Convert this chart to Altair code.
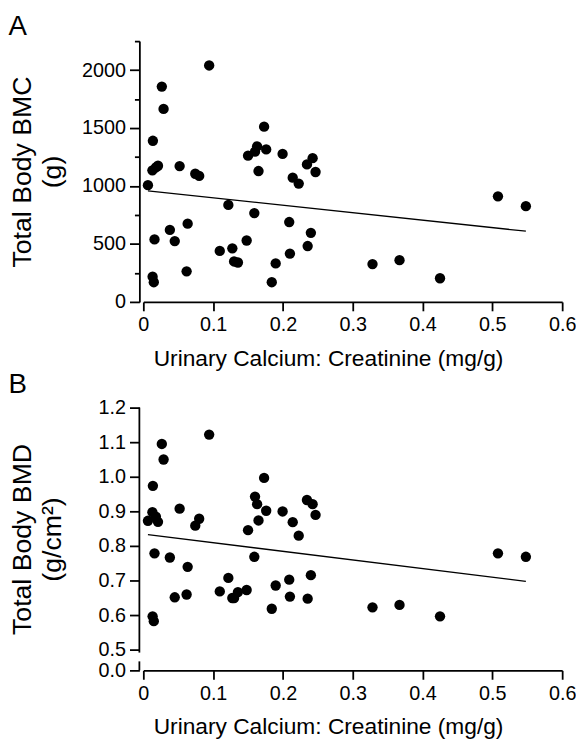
import altair as alt
import pandas as pd

# Urinary calcium : creatinine ratio (mg/g), one value per subject
ratio = [0.0066, 0.0137, 0.013, 0.018, 0.021, 0.0265, 0.029, 0.016, 0.0133, 0.015,
         0.038, 0.045, 0.052, 0.0635, 0.062, 0.0744, 0.080, 0.0943, 0.1218, 0.1095,
         0.1275, 0.130, 0.1355, 0.148, 0.150, 0.159, 0.160, 0.163, 0.165, 0.173,
         0.176, 0.184, 0.1896, 0.1995, 0.209, 0.210, 0.214, 0.2226, 0.2344, 0.2425,
         0.2467, 0.240, 0.2354, 0.3283, 0.367, 0.425, 0.508, 0.548]
# Total body BMC (g)
bmc = [1007, 1390, 1135, 1160, 1175, 1858, 1665, 539, 218, 170,
       621, 525, 1172, 675, 264, 1106, 1087, 2040, 837, 440,
       462, 349, 340, 530, 1262, 766, 1296, 1342, 1129, 1512,
       1316, 170, 332, 1277, 689, 417, 1072, 1021, 1186, 1240,
       1121, 596, 482, 326, 360, 204, 911, 826]
# Total body BMD (g/cm2)
bmd = [0.873, 0.974, 0.898, 0.885, 0.870, 1.095, 1.050, 0.779, 0.597, 0.583,
       0.767, 0.652, 0.908, 0.740, 0.660, 0.859, 0.879, 1.122, 0.708, 0.669,
       0.650, 0.650, 0.667, 0.673, 0.846, 0.769, 0.943, 0.921, 0.874, 0.997,
       0.902, 0.619, 0.686, 0.900, 0.703, 0.654, 0.869, 0.830, 0.933, 0.921,
       0.890, 0.716, 0.648, 0.623, 0.630, 0.597, 0.779, 0.769]
# fitted regression lines (end points)
fit_x = [0.0066, 0.548]
fit_bmc = [958, 610]
fit_bmd = [0.833, 0.698]

x_ticks = [0, 0.1, 0.2, 0.3, 0.4, 0.5, 0.6]
bmc_ticks = [0, 250, 500, 750, 1000, 1250, 1500, 1750, 2000, 2250]
bmd_ticks = [0.0, 0.5, 0.6, 0.7, 0.8, 0.9, 1.0, 1.1, 1.2]

pts = pd.DataFrame({"ratio": ratio, "bmc": bmc, "bmd": bmd})
fit = pd.DataFrame({"ratio": fit_x, "bmc": fit_bmc, "bmd": fit_bmd})

FONT = "Liberation Sans"
W = 424
HA = 264
HB = 266
YTITLE_X = -110.5

xscale = alt.Scale(domain=[0, 0.6], nice=False, zero=False)


def xaxis():
    return alt.Axis(values=x_ticks, tickCount=30, format="~g",
                    title="Urinary Calcium: Creatinine (mg/g)",
                    titleFontSize=23, titleFontWeight="normal", labelFontSize=20,
                    tickSize=9, labelPadding=4, titleX=187, titleY=64,
                    titleBaseline="alphabetic", titleAlign="center", grid=False,
                    domainColor="black", tickColor="black", labelColor="black",
                    titleColor="black", domainWidth=1.8, tickWidth=1.8,
                    labelFlush=False, labelOverlap=False)


# ---------- Panel A ----------
yA = alt.Scale(domain=[0, 2250], nice=False, zero=False)
yaxisA = alt.Axis(values=bmc_ticks, tickCount=30, format="d",
                  labelExpr="datum.value % 500 == 0 ? datum.label : ''",
                  tickSize={"condition": {"test": "datum.value % 500 != 0", "value": 5}, "value": 10},
                  offset=4, labelPadding=4, labelFontSize=20, labelOverlap=False,
                  title=["Total Body BMC", "(g)"], titleFontSize=27, titleFontWeight="normal",
                  titleLineHeight=31, titleX=YTITLE_X, titleBaseline="alphabetic",
                  grid=False, domainColor="black", tickColor="black", labelColor="black",
                  titleColor="black", domainWidth=1.8, tickWidth=1.8)

ptsA = alt.Chart(pts).mark_circle(size=110, color="black", opacity=1).encode(
    x=alt.X("ratio:Q", scale=xscale, axis=xaxis()),
    y=alt.Y("bmc:Q", scale=yA, axis=yaxisA),
)
lineA = alt.Chart(fit).mark_line(color="black", strokeWidth=1.3).encode(
    x=alt.X("ratio:Q", scale=xscale), y=alt.Y("bmc:Q", scale=yA)
)
panelA = alt.layer(ptsA, lineA).properties(
    width=W, height=HA,
    title=alt.TitleParams("A", anchor="start", frame="bounds", fontSize=28,
                          fontWeight="normal", font=FONT, color="black", offset=-9.5),
)

# ---------- Panel B (broken axis between 0.0 and 0.5) ----------
yB = alt.Scale(domain=[0, 0.5, 1.2], range=[HB, HB - 20.7, 0], nice=False, zero=False)
yaxisB = alt.Axis(values=bmd_ticks, tickCount=30, format=".1f", domain=False,
                  tickSize=10, offset=4, labelPadding=4, labelFontSize=20, labelOverlap=False,
                  title=["Total Body BMD", "(g/cm²)"], titleFontSize=27, titleFontWeight="normal",
                  titleLineHeight=31, titleX=YTITLE_X, titleBaseline="alphabetic",
                  grid=False, tickColor="black", labelColor="black",
                  titleColor="black", tickWidth=1.8)

segs = pd.DataFrame({"lo": [0.435, 0.0], "hi": [1.2, 0.22]})
ptsB = alt.Chart(pts).mark_circle(size=110, color="black", opacity=1).encode(
    x=alt.X("ratio:Q", scale=xscale, axis=xaxis()),
    y=alt.Y("bmd:Q", scale=yB, axis=yaxisB),
)
axB = alt.Chart(segs).mark_rule(color="black", strokeWidth=1.8).encode(
    x=alt.value(-4), y=alt.Y("lo:Q", scale=yB), y2="hi:Q"
)
lineB = alt.Chart(fit).mark_line(color="black", strokeWidth=1.3).encode(
    x=alt.X("ratio:Q", scale=xscale), y=alt.Y("bmd:Q", scale=yB)
)
panelB = alt.layer(ptsB, axB, lineB).properties(
    width=W, height=HB,
    title=alt.TitleParams("B", anchor="start", frame="bounds", fontSize=28,
                          fontWeight="normal", font=FONT, color="black", offset=-1),
)

chart = alt.vconcat(panelA, panelB, spacing=1).properties(
    padding={"left": 0, "top": 0, "right": 0, "bottom": 0}
).configure(font=FONT).configure_view(stroke=None)

chart.save("out.html", embed_options={"renderer": "svg", "actions": False})
